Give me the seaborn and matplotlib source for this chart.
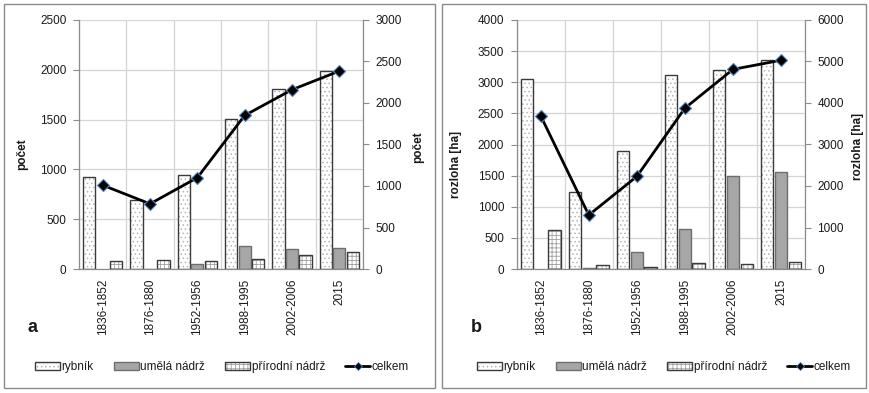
import numpy as np
import pandas as pd
import matplotlib
matplotlib.use("Agg")
import matplotlib.pyplot as plt
from matplotlib.patches import Rectangle, Patch
from matplotlib.lines import Line2D
import seaborn as sns

# ---- data -------------------------------------------------------------
periods = ["1836-1852", "1876-1880", "1952-1956", "1988-1995", "2002-2006", "2015"]
types = ["rybník", "umělá nádrž", "přírodní nádrž"]

pocet_rybnik = [920, 695, 945, 1510, 1810, 1985]
pocet_umela = [0, 5, 50, 230, 205, 210]
pocet_prirodni = [85, 95, 85, 105, 140, 175]
pocet_celkem = [1010, 785, 1100, 1850, 2160, 2385]

rozloha_rybnik = [3050, 1230, 1890, 3120, 3200, 3350]
rozloha_umela = [0, 10, 275, 645, 1500, 1560]
rozloha_prirodni = [620, 70, 25, 95, 85, 105]
rozloha_celkem = [3690, 1300, 2230, 3875, 4810, 5030]

# ---- style ------------------------------------------------------------
sns.set_style("white")
plt.rcParams["font.family"] = ["Liberation Sans", "DejaVu Sans"]
plt.rcParams["hatch.linewidth"] = 0.6

FS = 8.5
GRID = "#d4d4d4"
AXIS = "#8c8c8c"
TEXT = "#1a1a1a"
fills = {"rybník": "white", "umělá nádrž": "#a6a6a6", "přírodní nádrž": "white"}
hatches = {"rybník": "....", "umělá nádrž": None, "přírodní nádrž": "++++"}
hatch_cols = {"rybník": "#b4b4b4", "umělá nádrž": "#a6a6a6", "přírodní nádrž": "#a0a0a0"}
outlines = {"rybník": "#3a3a3a", "umělá nádrž": "#6e6e6e", "přírodní nádrž": "#3a3a3a"}

W, H = 869, 393
fig = plt.figure(figsize=(W / 100, H / 100), dpi=100)


def fx(px):
    return px / W


def fy(py):
    return 1 - py / H


def draw_panel(ax_rect, rybnik, umela, prirodni, celkem, lmax, rmax, lstep, rstep,
               label, lab_l, lab_r, letter, letter_xy, legend_xy, box):
    # panel frame
    x0, y0, x1, y1 = box
    fig.patches.append(Rectangle((fx(x0), fy(y1)), fx(x1 - x0), (y1 - y0) / H,
                                 transform=fig.transFigure, fill=False,
                                 edgecolor="#8a8a8a", lw=1.0, zorder=0))

    ax = fig.add_axes(ax_rect)
    df = pd.DataFrame({
        "období": periods * 3,
        "typ": [t for t in types for _ in periods],
        "hodnota": list(rybnik) + list(umela) + list(prirodni),
    })
    sns.barplot(data=df, x="období", y="hodnota", hue="typ", hue_order=types,
                order=periods, palette=fills, saturation=1, width=0.86, gap=0.1,
                errorbar=None, legend=False, ax=ax, zorder=2)

    for t, cont in zip(types, ax.containers):
        for p in cont.patches:
            p.set_hatch(hatches[t])
            p.set_edgecolor(hatch_cols[t])
            p.set_linewidth(0)
            if p.get_height() > 0:
                ax.add_patch(Rectangle(p.get_xy(), p.get_width(), p.get_height(),
                                       fill=False, edgecolor=outlines[t], lw=1.0,
                                       zorder=2.5))

    ax.set_xlim(-0.5, len(periods) - 0.5)
    ax.set_ylim(0, lmax)
    ax.set_yticks(np.arange(0, lmax + 1, lstep))
    ax.set_xticks(np.arange(-0.5, len(periods), 1.0), minor=True)
    ax.set_axisbelow(True)
    ax.yaxis.grid(True, color=GRID, lw=0.9)
    ax.xaxis.grid(True, which="minor", color=GRID, lw=0.9)
    ax.xaxis.grid(False, which="major")
    ax.tick_params(axis="x", which="major", length=0, pad=7, labelsize=FS,
                   labelrotation=90, colors=TEXT)
    ax.tick_params(axis="x", which="minor", length=4, direction="out", color=AXIS)
    ax.tick_params(axis="y", length=4, direction="out", color=AXIS, pad=5,
                   labelsize=FS, labelcolor=TEXT, left=True)
    for lbl in ax.get_xticklabels():
        lbl.set_va("top")
    ax.set_xlabel("")
    for s in ["top", "right"]:
        ax.spines[s].set_visible(False)
    for s in ["left", "bottom"]:
        ax.spines[s].set_color(AXIS)
        ax.spines[s].set_linewidth(0.9)
    ax.set_ylabel(label, fontsize=FS, fontweight="bold", color=TEXT)
    ax.yaxis.label.set_va("center")
    ax.yaxis.set_label_coords(*lab_l)

    # total on the secondary axis
    ax2 = ax.twinx()
    sns.pointplot(x=periods, y=celkem, order=periods, ax=ax2, color="black",
                  markers="D", linestyles="-", errorbar=None, linewidth=2.0,
                  markersize=6, markeredgecolor="#4f81bd", markeredgewidth=0.8)
    for ln in ax2.lines:
        ln.set_zorder(5)
    ax2.set_xlim(-0.5, len(periods) - 0.5)
    ax2.set_ylim(0, rmax)
    ax2.set_yticks(np.arange(0, rmax + 1, rstep))
    ax2.tick_params(axis="y", length=4, direction="out", color=AXIS, pad=5,
                    labelsize=FS, labelcolor=TEXT, right=True, labelright=True)
    for s in ["top", "left", "bottom"]:
        ax2.spines[s].set_visible(False)
    ax2.spines["right"].set_color(AXIS)
    ax2.spines["right"].set_linewidth(0.9)
    ax2.set_xlabel("")
    ax2.set_ylabel(label, fontsize=FS, fontweight="bold", color=TEXT, rotation=90)
    ax2.yaxis.label.set_va("center")
    ax2.yaxis.set_label_coords(*lab_r)

    fig.text(fx(letter_xy[0]), fy(letter_xy[1]), letter, fontsize=13,
             fontweight="bold", ha="center", va="center", color=TEXT)

    # legend
    handles = []
    for t in types:
        hatch_patch = Patch(facecolor=fills[t], hatch=hatches[t],
                            edgecolor=hatch_cols[t], lw=0)
        edge_patch = Patch(facecolor="none", edgecolor=outlines[t], lw=1.0)
        handles.append((hatch_patch, edge_patch))
    handles.append(Line2D([], [], color="black", lw=2.0, marker="D", markersize=4,
                          markeredgecolor="#4f81bd", markeredgewidth=0.6))
    fig.legend(handles, types + ["celkem"], loc="center",
               bbox_to_anchor=(fx(legend_xy[0]), fy(legend_xy[1])), ncol=4,
               frameon=False, fontsize=FS, handlelength=2.1, handleheight=0.6,
               handletextpad=0.15, columnspacing=1.7, labelcolor=TEXT)


# panel a: counts
draw_panel([fx(79), fy(269), fx(363 - 79), 249 / H],
           pocet_rybnik, pocet_umela, pocet_prirodni, pocet_celkem,
           2500, 3000, 500, 500, "počet",
           (-0.20, 0.46), (1.195, 0.49), "a", (33, 327), (222, 367),
           (4, 4, 435, 388))

# panel b: area
draw_panel([fx(516.7), fy(269), fx(805 - 516.7), 249 / H],
           rozloha_rybnik, rozloha_umela, rozloha_prirodni, rozloha_celkem,
           4000, 6000, 500, 1000, "rozloha [ha]",
           (-0.21, 0.42), (1.184, 0.49), "b", (476, 328), (664, 367),
           (442, 4, 866, 388))

fig.savefig("out.png", dpi=100)
